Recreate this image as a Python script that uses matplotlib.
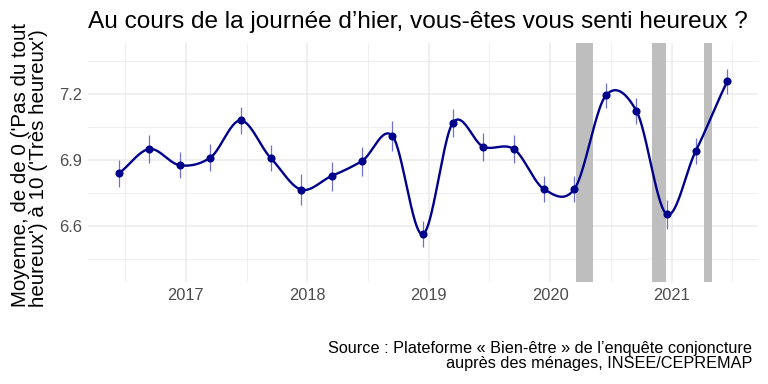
import matplotlib
matplotlib.use('Agg')
import matplotlib.pyplot as plt
import numpy as np

matplotlib.rcParams['font.family'] = ['Liberation Sans', 'DejaVu Sans']

# survey waves (decimal years) and mean happiness score
dates = [2016.45, 2016.70, 2016.95, 2017.20, 2017.45, 2017.70, 2017.95,
         2018.20, 2018.45, 2018.70, 2018.95, 2019.20, 2019.45, 2019.70,
         2019.95, 2020.20, 2020.46, 2020.71, 2020.96, 2021.20, 2021.46]
means = [6.84, 6.95, 6.876, 6.91, 7.08, 6.908, 6.765,
         6.827, 6.895, 7.01, 6.562, 7.07, 6.96, 6.95,
         6.767, 6.768, 7.194, 7.124, 6.653, 6.942, 7.258]
errs = [0.062, 0.064, 0.06, 0.062, 0.062, 0.06, 0.07,
        0.066, 0.066, 0.068, 0.06, 0.064, 0.064, 0.062,
        0.06, 0.058, 0.058, 0.06, 0.065, 0.06, 0.058]

# lockdowns
lock_start = [2020.215, 2020.84, 2021.268]
lock_end = [2020.355, 2020.953, 2021.336]


def smooth_curve(x, y, n=40, tension=0.9):
    # cardinal (Catmull-Rom like) Hermite spline through the points
    x = np.asarray(x, float)
    y = np.asarray(y, float)
    m = np.gradient(y, x) * tension
    m[1:-1] = (y[2:] - y[:-2]) / (x[2:] - x[:-2]) * tension
    xo, yo = [], []
    for i in range(len(x) - 1):
        h = x[i + 1] - x[i]
        t = np.linspace(0, 1, n)
        h00 = 2 * t**3 - 3 * t**2 + 1
        h10 = t**3 - 2 * t**2 + t
        h01 = -2 * t**3 + 3 * t**2
        h11 = t**3 - t**2
        xo.append(x[i] + t * h)
        yo.append(h00 * y[i] + h10 * h * m[i] + h01 * y[i + 1] + h11 * h * m[i + 1])
    return np.concatenate(xo), np.concatenate(yo)


fig = plt.figure(figsize=(7.68, 3.84), dpi=100)
ax = fig.add_axes([88 / 768, 1 - 282 / 384, (758 - 88) / 768, (282 - 43) / 384])

for s, e in zip(lock_start, lock_end):
    ax.axvspan(s, e, color='#bebebe', lw=0, zorder=1)

cx, cy = smooth_curve(dates, means)
ax.plot(cx, cy, color='#00008b', lw=1.7, zorder=3, solid_joinstyle='round')
ax.errorbar(dates, means, yerr=errs, fmt='none', ecolor='#7070d0', elinewidth=0.9,
            capsize=0, zorder=2)
ax.scatter(dates, means, s=34, color='#00008b', zorder=4, linewidths=0)

ax.set_xlim(2016.194, 2021.712)
ax.set_ylim(6.345, 7.432)
ax.set_xticks([2017, 2018, 2019, 2020, 2021])
ax.set_xticks([2016.5, 2017.5, 2018.5, 2019.5, 2020.5, 2021.5], minor=True)
ax.set_yticks([6.6, 6.9, 7.2])
ax.set_yticks([6.45, 6.75, 7.05, 7.35], minor=True)
ax.set_yticklabels(['6.6', '6.9', '7.2'])
ax.grid(which='major', color='#ebebeb', lw=1.1, zorder=0)
ax.grid(which='minor', color='#ebebeb', lw=0.55, zorder=0)
ax.set_axisbelow(True)
for sp in ax.spines.values():
    sp.set_visible(False)
ax.tick_params(which='both', length=0, labelsize=11.8, labelcolor='#4d4d4d', pad=4)

fig.text(29.5 / 768, 1 - 165 / 384,
         "Moyenne, de de 0 ('Pas du tout\nheureux') à 10 ('Très heureux')",
         fontsize=14.8, rotation=90, ha='center', va='center',
         multialignment='left', linespacing=0.95)
fig.text(88 / 768, 1 - 22 / 384, "Au cours de la journée d\u2019hier, vous-êtes vous senti heureux ?",
         fontsize=17.6, va='center', ha='left')
fig.text(752 / 768, 1 - 356 / 384,
         "Source : Plateforme « Bien-être » de l\u2019enquête conjoncture\naupr\u00e8s des m\u00e9nages, INSEE/CEPREMAP",
         fontsize=11.7, ha='right', va='center', multialignment='right', linespacing=1.0)

fig.savefig('out.png', dpi=100)
